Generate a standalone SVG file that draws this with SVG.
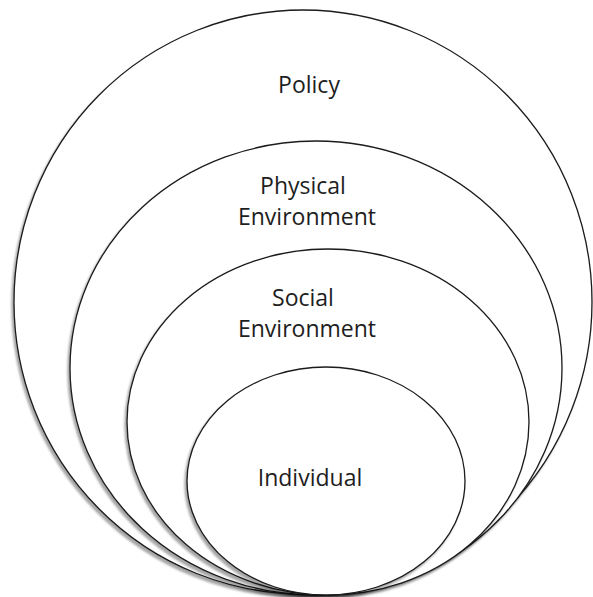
<svg xmlns="http://www.w3.org/2000/svg" width="593" height="597" viewBox="0 0 593 597">
  <defs>
    <filter id="shadow" x="-5%" y="-5%" width="110%" height="110%">
      <feDropShadow dx="-2" dy="3" stdDeviation="1.2" flood-color="#000" flood-opacity="0.35"/>
    </filter>
  </defs>
  <style>
    .ring { fill: #ffffff; stroke: #1a1a1a; stroke-width: 1.3; filter: url(#shadow); }
    .label { font-family: "Open Sans", "Liberation Sans", Arial, sans-serif; font-size: 23px; fill: #1e1e1e; text-anchor: middle; }
  </style>
  <rect width="593" height="597" fill="#ffffff"/>

  <g id="policy">
    <ellipse class="ring" cx="303" cy="302" rx="289" ry="292"/>
    <text class="label" x="309" y="93">Policy</text>
  </g>

  <g id="physical-environment">
    <ellipse class="ring" cx="316" cy="368" rx="246" ry="227"/>
    <text class="label" x="303" y="194">Physical</text>
    <text class="label" x="307" y="225">Environment</text>
  </g>

  <g id="social-environment">
    <ellipse class="ring" cx="328" cy="422" rx="201" ry="173"/>
    <text class="label" x="303" y="306">Social</text>
    <text class="label" x="307" y="337">Environment</text>
  </g>

  <g id="individual">
    <ellipse class="ring" cx="326" cy="481" rx="139" ry="114"/>
    <text class="label" x="310" y="486">Individual</text>
  </g>

  <g id="connectors"/>
</svg>
